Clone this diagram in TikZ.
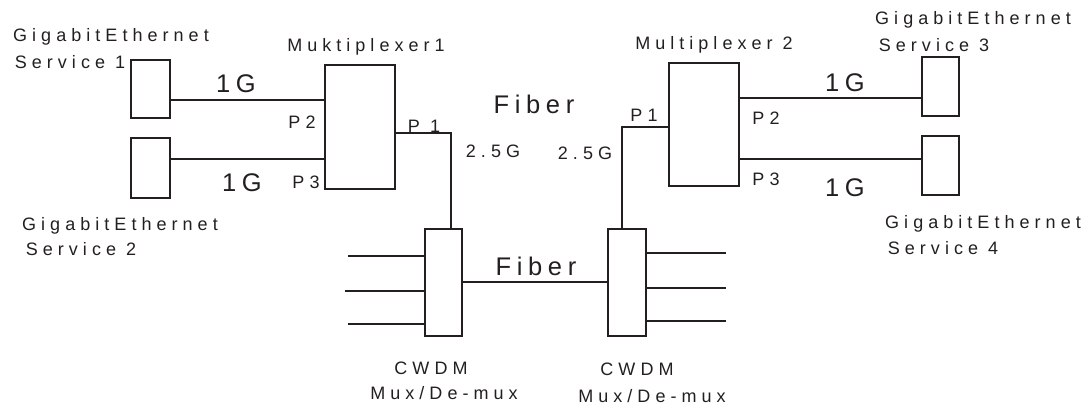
\documentclass[tikz,border=0pt]{standalone}
\usepackage{fontspec}
\newfontfamily\smallfam[LetterSpace=28]{Liberation Sans}
\newfontfamily\bigfam[LetterSpace=22]{Liberation Sans}
\definecolor{ink}{RGB}{35,31,32}
\begin{document}
\begin{tikzpicture}[x=1pt,y=-1pt,
  wire/.style={line width=1.8pt,draw=ink},
  box/.style={draw=ink,line width=1.8pt,rectangle,inner sep=0pt},
  lbl/.style={inner sep=0pt,anchor=base,text=ink,font=\smallfam\fontsize{18}{21}\selectfont},
  big/.style={inner sep=0pt,anchor=base,text=ink,font=\bigfam\fontsize{25.5}{28}\selectfont}]
\useasboundingbox (0,0) rectangle (1091,407);
% boxes
\node[box,minimum width=39,minimum height=58] (s1) at (150.5,89) {};
\node[box,minimum width=39,minimum height=60] (s2) at (150.5,168) {};
\node[box,minimum width=70,minimum height=124] (mux1) at (360,127) {};
\node[box,minimum width=37,minimum height=107] (cw1) at (443.5,282.5) {};
\node[box,minimum width=38,minimum height=107] (cw2) at (627,282.5) {};
\node[box,minimum width=70,minimum height=123] (mux2) at (704,124.5) {};
\node[box,minimum width=37,minimum height=59] (s3) at (940.5,86.5) {};
\node[box,minimum width=37,minimum height=59] (s4) at (940.5,165.5) {};
% free ends of the CWDM stubs
\coordinate (l1) at (348,256);
\coordinate (l2) at (345,291);
\coordinate (l3) at (348,324);
\coordinate (r1) at (726,253);
\coordinate (r2) at (726,288);
\coordinate (r3) at (726,321);
% connectors
\draw[wire] (s1.east |- 0,100) -- (mux1.west |- 0,100);
\draw[wire] (s2.east |- 0,159) -- (mux1.west |- 0,159);
\draw[wire] (mux1.east |- 0,133) -| (cw1.north -| 451,0);
\draw[wire] (cw1.east |- 0,282) -- (cw2.west |- 0,282);
\draw[wire] (cw2.north -| 622,0) |- (mux2.west |- 0,127);
\draw[wire] (mux2.east |- 0,98) -- (s3.west |- 0,98);
\draw[wire] (mux2.east |- 0,159) -- (s4.west |- 0,159);
\draw[wire] (l1) -- (cw1.west |- l1);
\draw[wire] (l2) -- (cw1.west |- l2);
\draw[wire] (l3) -- (cw1.west |- l3);
\draw[wire] (cw2.east |- r1) -- (r1);
\draw[wire] (cw2.east |- r2) -- (r2);
\draw[wire] (cw2.east |- r3) -- (r3);
% labels
\node[lbl] (t1a) at (111,41) {GigabitEthernet};
\node[lbl] (t1b) at (70,68) {Service 1};
\node[lbl] (t2a) at (120,230) {GigabitEthernet};
\node[lbl] (t2b) at (81,255) {Service 2};
\node[lbl] (tm1) at (366,51) {Muktiplexer1};
\node[big] (g1) at (236,92) {1G};
\node[big] (g2) at (242,191) {1G};
\node[lbl] (p2a) at (302,128) {P2};
\node[lbl] (p3a) at (306,188) {P3};
\node[lbl] (p1a) at (424,132) {P 1};
\node[lbl] (r25a) at (493,157) {2.5G};
\node[big] (f1) at (534,113) {Fiber};
\node[lbl] (r25b) at (585,159) {2.5G};
\node[lbl] (p1b) at (644,121) {P1};
\node[lbl] (tm2) at (714,49) {Multiplexer 2};
\node[big] (g3) at (845,91) {1G};
\node[big] (g4) at (845,196) {1G};
\node[lbl] (p2b) at (766,124) {P2};
\node[lbl] (p3b) at (766,185) {P3};
\node[lbl] (t3a) at (973,24) {GigabitEthernet};
\node[lbl] (t3b) at (934,51) {Service 3};
\node[lbl] (t4a) at (983,228) {GigabitEthernet};
\node[lbl] (t4b) at (943,254) {Service 4};
\node[big] (f2) at (536,275) {Fiber};
\node[lbl] (c1a) at (431,374) {CWDM};
\node[lbl] (c1b) at (444,399) {Mux/De-mux};
\node[lbl] (c2a) at (637,375) {CWDM};
\node[lbl] (c2b) at (652,402) {Mux/De-mux};
\end{tikzpicture}
\end{document}
